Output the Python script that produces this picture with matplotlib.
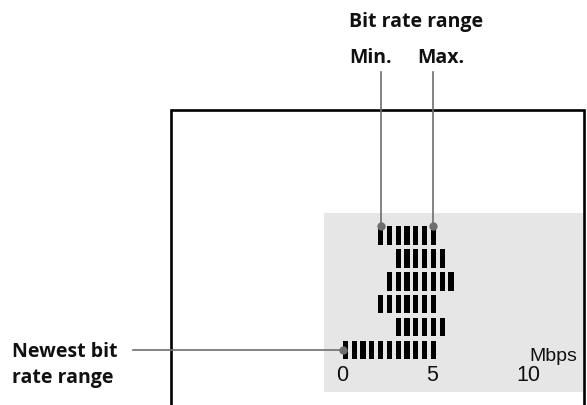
import numpy as np
import matplotlib
matplotlib.use("Agg")
import matplotlib.pyplot as plt

# lit meter segments per row (segment index, first and last), top row first
seg_min = [4, 6, 5, 4, 6, 0]
seg_max = [10, 11, 12, 10, 11, 10]
tick_vals = [0, 5, 10]
tick_labels = ["0", "5", "10"]

SEG_MBPS = 0.4724      # one meter segment in Mbps
SEG_W = 0.285          # lit width of a segment
SEG_X0 = 0.0376        # left edge of segment 0
ROW_H = 0.81

W, H = 587, 406
fig = plt.figure(figsize=(W / 100, H / 100), dpi=100)

# grey display panel, placed in pixel terms
px_l, px_r, px_t, px_b = 324, 583, 214, 393
ax = fig.add_axes([px_l / W, 1 - px_b / H, (px_r - px_l) / W, (px_b - px_t) / H])
ax.set_facecolor("#e6e6e6")
ax.set_xlim((px_l - 342) / 18.63, (px_r - 342) / 18.63)
ax.set_ylim((px_b - 236.5) / 22.9, (px_t - 236.5) / 22.9)
for s in ax.spines.values():
    s.set_visible(False)
ax.set_xticks([])
ax.set_yticks([])

for row, (a, b) in enumerate(zip(seg_min, seg_max)):
    idx = np.arange(a, b + 1)
    ax.bar(SEG_X0 + idx * SEG_MBPS, ROW_H, width=SEG_W, bottom=row - ROW_H / 2,
           align="edge", color="black", linewidth=0)

for v, t in zip(tick_vals, tick_labels):
    ax.text(v - (0.15 if v == 5 else 0), 6.05, t, ha="center", va="center",
            fontsize=15.5, family="Liberation Sans", color="#111111")

# overlay in figure pixels for frame and callouts
ov = fig.add_axes([0, 0, 1, 1])
ov.set_xlim(0, W)
ov.set_ylim(H, 0)
ov.axis("off")

ov.plot([170.5, 170.5, 583.5, 583.5], [420, 111, 111, 420], color="black",
        lw=1.9, clip_on=False, solid_joinstyle="miter")

ov.text(577.5, 360.7, "Mbps", ha="right", va="baseline", fontsize=14,
        family="Liberation Sans", color="#111111")


def to_px(x, y):
    return ov.transData.inverted().transform(ax.transData.transform((x, y)))


lead = "#6e6e6e"
top0 = -ROW_H / 2
p_min = to_px(SEG_X0 + seg_min[0] * SEG_MBPS + SEG_W / 2, top0)
p_max = to_px(SEG_X0 + seg_max[0] * SEG_MBPS + SEG_W / 2, top0)
p_new = to_px(SEG_X0, 5)

ov.plot([p_min[0], p_min[0]], [73, p_min[1]], color=lead, lw=1.2)
ov.plot([p_max[0], p_max[0]], [73, p_max[1]], color=lead, lw=1.2)
ov.plot([133, p_new[0]], [p_new[1], p_new[1]], color=lead, lw=1.2)
ov.plot([p_min[0], p_max[0], p_new[0]], [p_min[1], p_max[1], p_new[1]], "o",
        color=lead, ms=6, mec="none")

lab = dict(fontsize=14, family="Open Sans", weight="bold", color="#111111",
           va="baseline", ha="left")
ov.text(349, 26.7, "Bit rate range", **lab)
ov.text(349, 62.7, "Min.", **lab)
ov.text(417, 62.7, "Max.", **lab)
ov.text(11.5, 357.3, "Newest bit", **lab)
ov.text(11.5, 383.3, "rate range", **lab)

fig.savefig("out.png", dpi=100)
